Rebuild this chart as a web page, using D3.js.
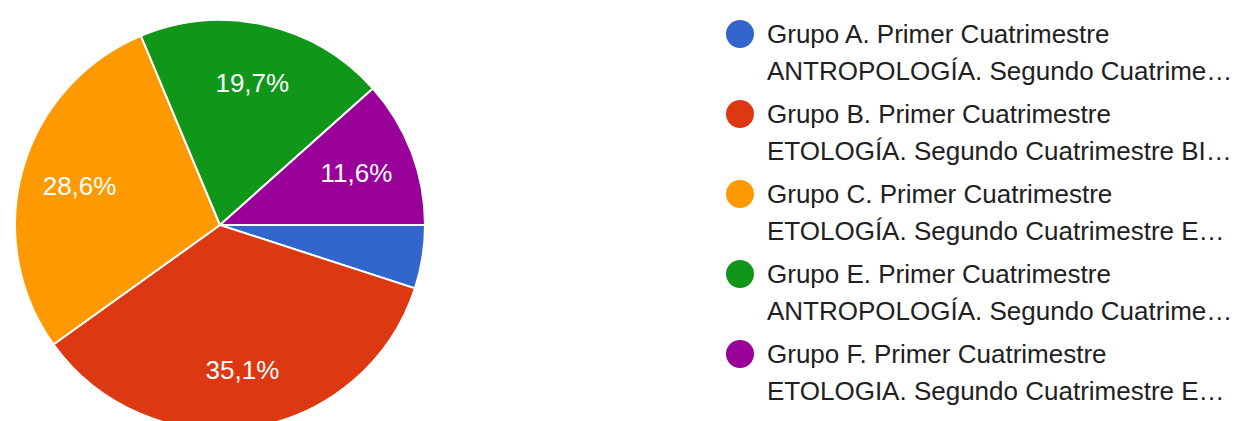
<!DOCTYPE html>
<html>
<head>
<meta charset="utf-8">
<script src="https://cdn.jsdelivr.net/npm/d3@7"></script>
<style>
  body { margin: 0; background: #fff; }
  text { font-family: "Liberation Sans", Arial, sans-serif; }
</style>
</head>
<body>
<div id="container"></div>
<script>
var width = 1258,
    height = 421;

// data
var groups = ['A', 'B', 'C', 'E', 'F'];
var values = [5.0, 35.1, 28.6, 19.7, 11.6];
var colors = ['#3366cc', '#dc3912', '#ff9900', '#109618', '#990099'];
var legendLine1 = [
  'Grupo A. Primer Cuatrimestre',
  'Grupo B. Primer Cuatrimestre',
  'Grupo C. Primer Cuatrimestre',
  'Grupo E. Primer Cuatrimestre',
  'Grupo F. Primer Cuatrimestre'
];
var legendLine2 = [
  'ANTROPOLOGÍA. Segundo Cuatrime…',
  'ETOLOGÍA. Segundo Cuatrimestre BI…',
  'ETOLOGÍA. Segundo Cuatrimestre E…',
  'ANTROPOLOGÍA. Segundo Cuatrime…',
  'ETOLOGIA. Segundo Cuatrimestre E…'
];

var svg = d3.select('#container').append('svg')
    .attr('width', width)
    .attr('height', height);

var cx = 220, cy = 225, radius = 205;

var color = d3.scaleOrdinal()
    .domain(groups)
    .range(colors);

var pie = d3.pie()
    .sort(null)
    .startAngle(Math.PI / 2)
    .endAngle(Math.PI / 2 + 2 * Math.PI)
    .value(function(d, i) { return values[i]; });

var arcs = pie(groups);

var arc = d3.arc().innerRadius(0).outerRadius(radius);
var labelArc = d3.arc().innerRadius(146).outerRadius(146);

var g = svg.append('g')
    .attr('transform', 'translate(' + cx + ',' + cy + ')');

g.selectAll('.slice')
  .data(arcs)
  .enter()
  .append('path')
    .attr('class', 'slice')
    .attr('d', arc)
    .style('fill', function(d) { return color(d.data); })
    .style('stroke', '#fff')
    .style('stroke-width', '2px');

g.selectAll('.pct')
  .data(arcs.filter(function(d) { return d.endAngle - d.startAngle > 0.4; }))
  .enter()
  .append('text')
    .attr('class', 'pct')
    .attr('transform', function(d) { return 'translate(' + labelArc.centroid(d) + ')'; })
    .attr('text-anchor', 'middle')
    .attr('dy', '0.36em')
    .style('fill', '#fff')
    .style('font-size', '26px')
    .text(function(d, i) { return values[groups.indexOf(d.data)].toFixed(1).replace('.', ',') + '%'; });

// legend
var legend = svg.selectAll('.legend')
  .data(groups)
  .enter()
  .append('g')
    .attr('class', 'legend')
    .attr('transform', function(d, i) { return 'translate(740,' + (34 + i * 80) + ')'; });

legend.append('circle')
    .attr('r', 14)
    .style('fill', function(d) { return color(d); });

legend.append('text')
    .attr('x', 27)
    .attr('y', 9)
    .style('font-size', '26px')
    .style('fill', '#212121')
    .text(function(d, i) { return legendLine1[i]; });

legend.append('text')
    .attr('x', 27)
    .attr('y', 46)
    .style('font-size', '26px')
    .style('fill', '#212121')
    .text(function(d, i) { return legendLine2[i]; });
</script>
</body>
</html>
